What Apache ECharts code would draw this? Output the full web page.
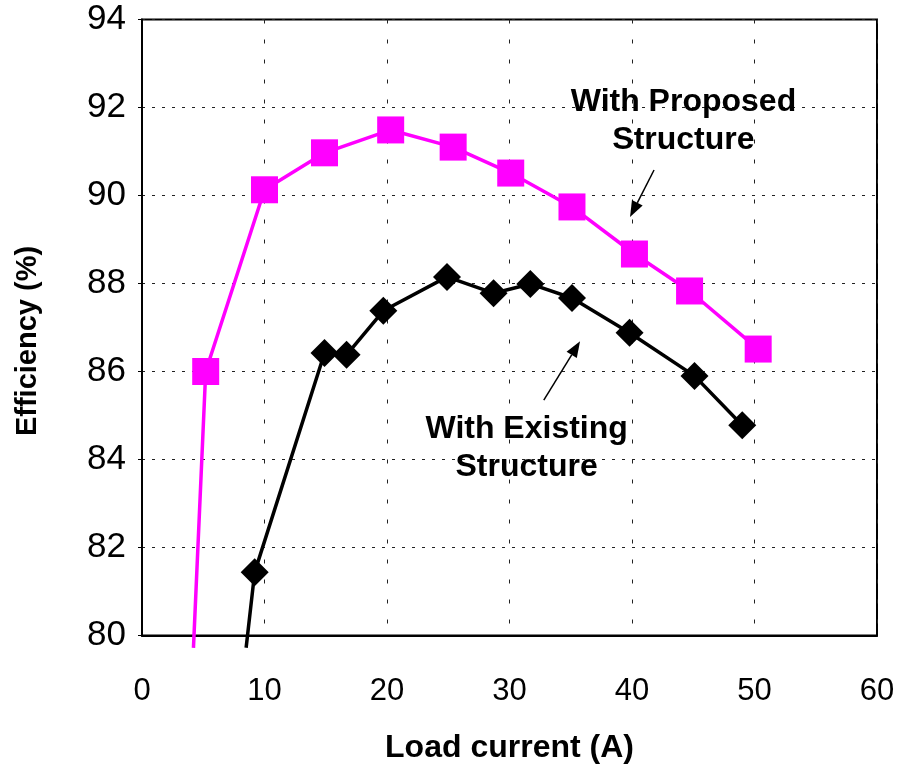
<!DOCTYPE html>
<html>
<head>
<meta charset="utf-8">
<script src="https://cdn.jsdelivr.net/npm/echarts@6/dist/echarts.min.js"></script>
<style>
  html, body { margin: 0; padding: 0; background: #fff; }
  #chart { width: 897px; height: 765px; }
</style>
</head>
<body>
<div id="chart"></div>
<script>
// Load current (A) and efficiency (%) readings
const proposedCurrent = [4.2, 5.2, 10.0, 14.9, 20.3, 25.4, 30.1, 35.1, 40.2, 44.7, 50.3];
const proposedEff     = [79.72, 86.0, 90.13, 90.97, 91.49, 91.10, 90.51, 89.74, 88.67, 87.83, 86.51];
const existingCurrent = [8.5, 9.2, 14.9, 16.7, 19.7, 24.9, 28.7, 31.7, 35.1, 39.8, 45.1, 49.0];
const existingEff     = [79.72, 81.44, 86.42, 86.38, 87.38, 88.15, 87.78, 87.99, 87.67, 86.88, 85.9, 84.78];

const xTicks = [0, 10, 20, 30, 40, 50, 60];
const yTicks = [80, 82, 84, 86, 88, 90, 92, 94];

// Annotation anchors in data units: [x, y]
const proposedLabelAt = [44.2, 91.69];
const proposedArrow   = [[41.8, 90.58], [39.84, 89.51]];
const existingLabelAt = [31.4, 84.26];
const existingArrow   = [[32.8, 85.35], [35.76, 86.69]];

function pairs(xs, ys) {
  return xs.map((x, i) => ({
    value: [x, ys[i]],
    // the first reading sits below the axis floor; only its line segment shows
    symbol: ys[i] < yTicks[0] ? 'none' : undefined
  }));
}

const chart = echarts.init(document.getElementById('chart'), null, { renderer: 'canvas' });

const sans = '"Liberation Sans", Arial, sans-serif';

chart.setOption({
  animation: false,
  backgroundColor: '#fff',
  grid: {
    left: 142, right: 20, top: 19.5, bottom: 129.5,
    containLabel: false,
    outerBoundsMode: 'none',
    show: true, borderColor: '#000', borderWidth: 2, backgroundColor: 'transparent'
  },
  xAxis: {
    type: 'value',
    min: xTicks[0], max: xTicks[xTicks.length - 1], interval: 10,
    name: 'Load current (A)',
    nameLocation: 'middle', nameGap: 97,
    nameTextStyle: { fontFamily: sans, fontSize: 32, fontWeight: 'bold', color: '#000' },
    axisLine: { show: true, lineStyle: { color: '#000', width: 2 } },
    axisTick: { show: false },
    axisLabel: { margin: 40, fontFamily: sans, fontSize: 31, color: '#000' },
    splitLine: { show: true, lineStyle: { color: '#222', width: 1, type: [4, 16] } }
  },
  yAxis: {
    type: 'value',
    min: yTicks[0], max: yTicks[yTicks.length - 1], interval: 2,
    axisLine: { show: true, lineStyle: { color: '#000', width: 2 } },
    axisTick: { show: true, inside: false, length: 4, lineStyle: { color: '#000' } },
    axisLabel: { margin: 16, fontFamily: sans, fontSize: 35, color: '#000' },
    splitLine: { show: true, lineStyle: { color: '#222', width: 1, type: [3, 7] } }
  },
  series: [
    {
      name: 'With Proposed Structure',
      type: 'line',
      data: pairs(proposedCurrent, proposedEff),
      clip: false,
      symbol: 'rect',
      symbolSize: 27,
      showAllSymbol: true,
      lineStyle: { color: '#ff00ff', width: 3.5 },
      itemStyle: { color: '#ff00ff' },
      z: 3
    },
    {
      name: 'With Existing Structure',
      type: 'line',
      data: pairs(existingCurrent, existingEff),
      clip: false,
      symbol: 'diamond',
      symbolSize: 28,
      showAllSymbol: true,
      lineStyle: { color: '#000', width: 3.5 },
      itemStyle: { color: '#000' },
      z: 3
    }
  ]
});

// Text callouts and arrows, positioned from data coordinates
function px(p) { return chart.convertToPixel({ gridIndex: 0 }, p); }

function arrow(from, to) {
  const a = px(from), b = px(to);
  const ang = Math.atan2(b[1] - a[1], b[0] - a[0]);
  const L = 16, W = 6;
  const bx = b[0] - L * Math.cos(ang), by = b[1] - L * Math.sin(ang);
  const nx = -Math.sin(ang) * W, ny = Math.cos(ang) * W;
  return [
    { type: 'line', shape: { x1: a[0], y1: a[1], x2: bx, y2: by }, style: { stroke: '#000', lineWidth: 1.5 }, z: 10 },
    { type: 'polygon', shape: { points: [[b[0], b[1]], [bx + nx, by + ny], [bx - nx, by - ny]] }, style: { fill: '#000' }, z: 10 }
  ];
}

function callout(at, text) {
  const p = px(at);
  return {
    type: 'text', x: p[0], y: p[1], z: 10,
    style: {
      text: text, align: 'center', verticalAlign: 'middle',
      font: 'bold 32px ' + sans,
      lineHeight: 38, fill: '#000'
    }
  };
}

// Vertical axis title, set a little below the plot's middle
const yTitle = {
  type: 'text', x: 28, y: 341, rotation: Math.PI / 2, z: 10,
  style: {
    text: 'Efficiency (%)', align: 'center', verticalAlign: 'middle',
    font: 'bold 29px ' + sans, fill: '#000'
  }
};

chart.setOption({
  graphic: [
    yTitle,
    callout(proposedLabelAt, 'With Proposed\nStructure'),
    callout(existingLabelAt, 'With Existing\nStructure')
  ].concat(arrow(proposedArrow[0], proposedArrow[1]), arrow(existingArrow[0], existingArrow[1]))
});
</script>
</body>
</html>
